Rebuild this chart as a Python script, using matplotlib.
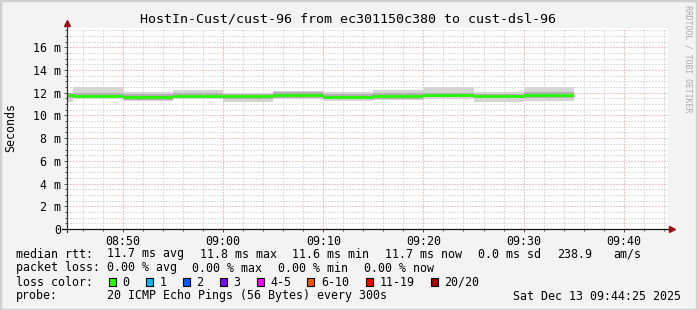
import matplotlib
matplotlib.use('Agg')
import matplotlib.pyplot as plt
from matplotlib.patches import Rectangle
from matplotlib.ticker import MultipleLocator

# smokeping data, one value per 5 min step (end of step, minutes after 08:00)
step_end = [45, 50, 55, 60, 65, 70, 75, 80, 85, 90, 95]
median = [11.82, 11.75, 11.65, 11.70, 11.70, 11.82, 11.65, 11.72, 11.77, 11.70, 11.77]
ping_min = [11.20, 11.44, 11.24, 11.42, 11.20, 11.44, 11.24, 11.36, 11.44, 11.20, 11.30]
ping_max = [12.00, 12.47, 12.03, 12.24, 12.00, 12.15, 12.03, 12.24, 12.47, 12.03, 12.47]
inner_lo = [11.55, 11.60, 11.40, 11.55, 11.45, 11.55, 11.45, 11.45, 11.60, 11.50, 11.55]
inner_hi = [11.95, 12.00, 11.90, 11.95, 11.85, 12.05, 11.85, 12.00, 11.95, 11.85, 12.10]

xtick_pos = [50, 60, 70, 80, 90, 100]
xtick_lab = ['08:50', '09:00', '09:10', '09:20', '09:30', '09:40']
ytick_pos = [0, 2, 4, 6, 8, 10, 12, 14, 16]
ytick_lab = ['0'] + ['%d m' % v for v in ytick_pos[1:]]

loss_labels = ['0', '1', '2', '3', '4-5', '6-10', '11-19', '20/20']
loss_colors = ['#26ff00', '#00b8ff', '#0059ff', '#7e00ff', '#ff00ff', '#ff5500', '#ff0000', '#a10000']

W, H = 697, 310
MONO = 'DejaVu Sans Mono'
FS = 8.4

def px(x, y):
    return x / W, 1 - y / H

fig = plt.figure(figsize=(W / 100, H / 100), dpi=100, facecolor='#f3f3f3')
fig.patches.append(Rectangle((0, 0), 1, 1, transform=fig.transFigure, fill=False,
                             edgecolor='#cfcfcf', lw=2.5))

ax = fig.add_axes([67 / W, 81 / H, 601 / W, 201 / H])
ax.set_facecolor('white')
ax.set_xlim(44 + 25 / 60, 104 + 25 / 60)
ax.set_ylim(0, 17.7)

# grid, dotted like rrdtool
ax.xaxis.set_minor_locator(MultipleLocator(2))
ax.yaxis.set_minor_locator(MultipleLocator(0.5))
ax.set_xticks(xtick_pos)
ax.set_xticklabels(xtick_lab, family=MONO, fontsize=FS)
ax.set_yticks(ytick_pos)
ax.set_yticklabels(ytick_lab, family=MONO, fontsize=FS)
ax.grid(which='minor', color='#bfbfbf', linestyle=(0, (1, 2)), lw=0.72)
ax.grid(which='major', color='#e48888', linestyle=(0, (1, 2)), lw=0.72)
ax.set_axisbelow(True)
ax.tick_params(which='both', direction='out', color='#555555', width=0.72)
ax.tick_params(which='major', length=2.2, pad=1.8)
ax.tick_params(which='minor', length=1.5)
for s in ax.spines.values():
    s.set_visible(False)

# smoke
starts = [e - 5 for e in step_end]
ax.bar(starts, [b - a for a, b in zip(ping_min, ping_max)], width=5, bottom=ping_min,
       align='edge', color='#d4d4d4', lw=0, zorder=2)
ax.bar(starts, [b - a for a, b in zip(inner_lo, inner_hi)], width=5, bottom=inner_lo,
       align='edge', color='#b0b0b0', lw=0, zorder=2)
ax.bar(starts, [0.16] * len(median), width=5, bottom=[m - 0.12 for m in median],
       align='edge', color='#8a8a8a', lw=0, zorder=2)
ax.hlines(median, starts, step_end, color=loss_colors[0], lw=2.0, zorder=3)

# axes with arrows
ax.plot([0, 0], [-0.015, 1.02], transform=ax.transAxes, color='#333333', lw=0.9, clip_on=False, zorder=4)
ax.plot([-0.008, 1.0], [0, 0], transform=ax.transAxes, color='#111111', lw=0.9, clip_on=False, zorder=4)
ax.plot([0], [1.025], marker='^', ms=5, color='#9b1010', transform=ax.transAxes, clip_on=False, zorder=5)
ax.plot([1.006], [0], marker='>', ms=5, color='#9b1010', transform=ax.transAxes, clip_on=False, zorder=5)

# titles
fig.text(*px(348, 19), 'HostIn-Cust/cust-96 from ec301150c380 to cust-dsl-96',
         family=MONO, fontsize=9.6, ha='center', va='center')
fig.text(*px(11, 128), 'Seconds', family=MONO, fontsize=FS, rotation=90, ha='center', va='center')
fig.text(*px(688, 5), 'RRDTOOL / TOBI OETIKER', family=MONO, fontsize=5.9, color='#a8a8a8',
         rotation=270, ha='center', va='top')

# legend rows
rows = [
    (254, [(16, 'median rtt:'), (107, '11.7 ms avg'), (200, '11.8 ms max'), (292.5, '11.6 ms min'),
           (385, '11.7 ms now'), (478.5, '0.0 ms sd'), (557.5, '238.9'), (613, 'am/s')]),
    (268, [(16, 'packet loss:'), (107, '0.00 % avg'), (192.5, '0.00 % max'), (278.5, '0.00 % min'),
           (364.5, '0.00 % now')]),
    (282, [(16, 'loss color:')]),
    (296, [(16, 'probe:'), (107, '20 ICMP Echo Pings (56 Bytes) every 300s')]),
]
for y, items in rows:
    for x, t in items:
        fig.text(*px(x, y), t, family=MONO, fontsize=FS, ha='left', va='center')
fig.text(*px(681, 296), 'Sat Dec 13 09:44:25 2025', family=MONO, fontsize=FS, ha='right', va='center')

box_x = [108.5, 145.5, 182.5, 219.5, 256.5, 307, 365.5, 430.5]
for bx, lab, col in zip(box_x, loss_labels, loss_colors):
    x0, y0 = px(bx, 286)
    fig.patches.append(Rectangle((x0, y0), 7 / W, 8 / H, transform=fig.transFigure,
                                 facecolor=col, edgecolor='black', lw=0.8))
    fig.text(*px(bx + 14, 282), lab, family=MONO, fontsize=FS, ha='left', va='center')

plt.savefig('out.png', dpi=100, facecolor=fig.get_facecolor())
